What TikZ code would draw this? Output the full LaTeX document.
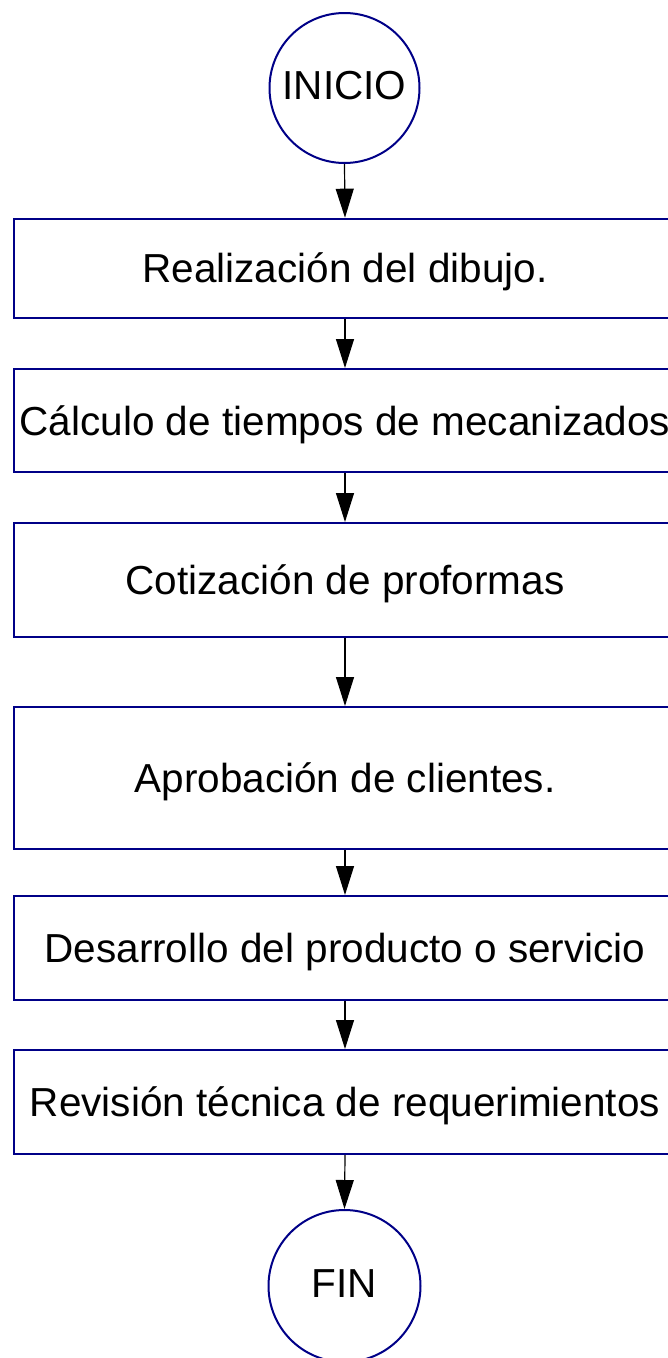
\documentclass[tikz,border=0pt]{standalone}
\usepackage{fontspec}
\setmainfont{Liberation Sans}
\usetikzlibrary{arrows.meta}
\definecolor{boxblue}{RGB}{0,0,135}
\begin{document}
\begin{tikzpicture}[x=1pt,y=1pt,
  stepbox/.style={draw=boxblue, line width=2pt, rectangle, minimum width=662pt, inner sep=0pt,
    text height=36pt, text depth=7pt, font=\fontsize{40.5}{48}\selectfont},
  term/.style={draw=boxblue, line width=2pt, circle, inner sep=0pt,
    text height=23pt, text depth=0pt, font=\fontsize{40.5}{48}\selectfont},
  flow/.style={-{Triangle[width=18pt,length=29pt]}, line width=1.2pt, black}]
\useasboundingbox (0,0) rectangle (668,-1358);
\node[term, minimum size=150pt] (ini) at (344.5,-88) {INICIO};
\node[stepbox, minimum height=99.3pt] (b1) at (345,-268.35) {Realización del dibujo.};
\node[stepbox, minimum height=103.3pt] (b2) at (345,-420.65) {Cálculo de tiempos de mecanizados};
\node[stepbox, minimum height=113.7pt] (b3) at (345,-579.85) {Cotización de proformas};
\node[stepbox, minimum height=142pt] (b4) at (345,-778) {Aprobación de clientes.};
\node[stepbox, minimum height=103.7pt] (b5) at (345,-947.85) {Desarrollo del producto o servicio};
\node[stepbox, minimum height=104pt] (b6) at (345,-1102) {Revisión técnica de requerimientos};
\node[term, minimum size=152pt] (fin) at (344.5,-1286) {FIN};
\draw[flow] (ini.south) -- (b1.north);
\draw[flow] (b1.south) -- (b2.north);
\draw[flow] (b2.south) -- (b3.north);
\draw[flow] (b3.south) -- (b4.north);
\draw[flow] (b4.south) -- (b5.north);
\draw[flow] (b5.south) -- (b6.north);
\draw[flow] (b6.south) -- (fin.north);
\end{tikzpicture}
\end{document}
